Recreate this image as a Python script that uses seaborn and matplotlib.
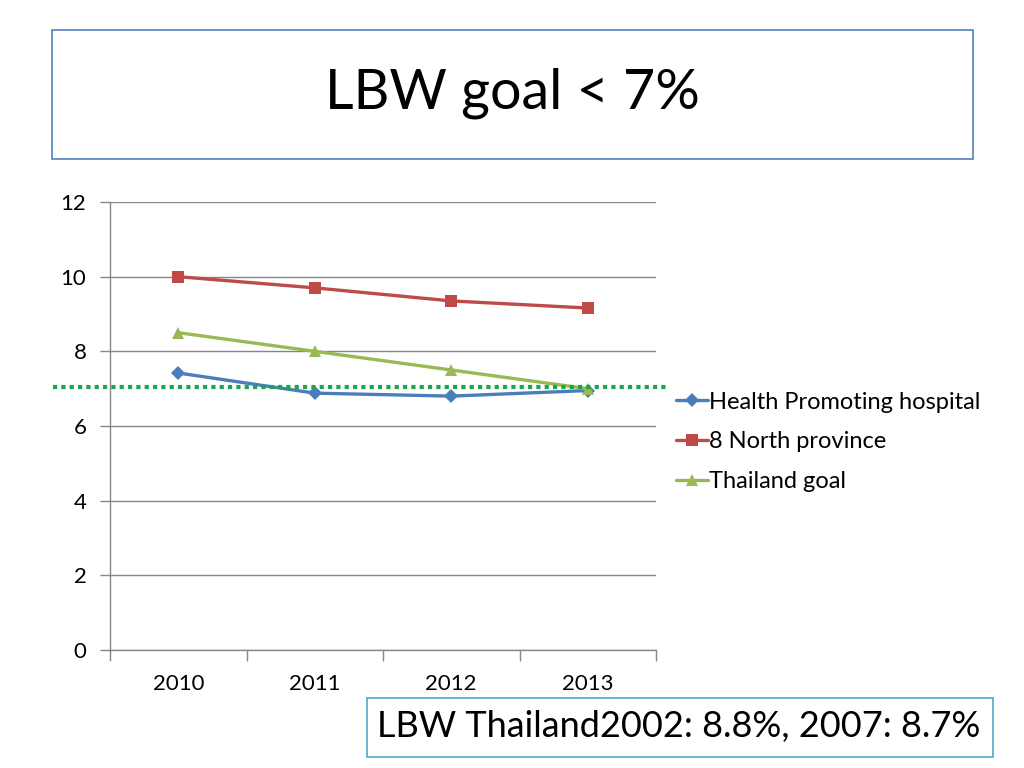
import matplotlib
matplotlib.use("Agg")
import matplotlib.pyplot as plt
import seaborn as sns
import pandas as pd
from matplotlib.patches import Rectangle

years = [2010, 2011, 2012, 2013]
health_promoting = [7.42, 6.88, 6.80, 6.95]
north_province = [10.0, 9.70, 9.35, 9.16]
thailand_goal = [8.5, 8.0, 7.5, 7.0]
series_names = ["Health Promoting hospital", "8 North province", "Thailand goal"]
goal_line = 7.05
title_text = "LBW goal < 7%"
note_text = "LBW Thailand2002: 8.8%, 2007: 8.7%"

sns.set_theme(style="white")
plt.rcParams['font.family'] = ['Lato', 'DejaVu Sans']
plt.rcParams['text.color'] = 'black'
plt.rcParams['xtick.color'] = 'black'
plt.rcParams['ytick.color'] = 'black'

df = pd.DataFrame({
    "year": years * 3,
    "value": health_promoting + north_province + thailand_goal,
    "series": [series_names[0]] * 4 + [series_names[1]] * 4 + [series_names[2]] * 4,
})

colors = {series_names[0]: "#4a7ebb", series_names[1]: "#be4b48", series_names[2]: "#98b954"}
markers = {series_names[0]: "D", series_names[1]: "s", series_names[2]: "^"}

fig = plt.figure(figsize=(10.24, 7.68), dpi=100)
ax = fig.add_axes([110/1024, 1 - 650/768, (656-110)/1024, (650-202)/768])

for name in series_names:
    sub = df[df.series == name]
    ms = 7 if markers[name] == "D" else 9
    sns.lineplot(data=sub, x="year", y="value", ax=ax, color=colors[name],
                 marker=markers[name], markersize=ms, markeredgewidth=0,
                 linewidth=2.4, label=name)

ax.set_xlim(2009.5, 2013.5)
ax.set_ylim(0, 12)
ax.set_yticks([0, 2, 4, 6, 8, 10, 12])
ax.set_xticks([2009.5, 2010.5, 2011.5, 2012.5, 2013.5])
ax.set_xticklabels([])
ax.set_xticks(years, minor=True)
ax.set_xticklabels([str(y) for y in years], minor=True)
ax.tick_params(axis="x", which="minor", bottom=True, length=0, pad=17, labelsize=16)
ax.tick_params(axis="x", which="major", bottom=True, length=8, width=1, color="#868686", direction="out")
ax.tick_params(axis="y", left=True, length=7, width=1, color="#868686", direction="out",
               labelsize=16, pad=10, labelcolor="black")
ax.set_xlabel("")
ax.set_ylabel("")
ax.yaxis.grid(True, color="#868686", linewidth=1)
ax.xaxis.grid(False)
for s in ["top", "right"]:
    ax.spines[s].set_visible(False)
for s in ["left", "bottom"]:
    ax.spines[s].set_color("#868686")
    ax.spines[s].set_linewidth(1)

ax.plot([2009.5 - 0.42, 2013.57], [goal_line, goal_line], linestyle=(0, (1, 1)),
        color="#1aa64a", linewidth=3, clip_on=False, zorder=5)

leg = ax.legend(loc="center left", bbox_to_anchor=(1.02, 1 - (442-202)/448), frameon=False,
                fontsize=17, handlelength=1.35, handletextpad=0.05, labelspacing=0.8,
                borderaxespad=0)
for t in leg.get_texts():
    t.set_color("black")

fig.patches.append(Rectangle((52/1024, 1 - 159/768), (973-52)/1024, (159-30)/768,
                             transform=fig.transFigure, fill=False,
                             edgecolor="#4f81bd", linewidth=1.2))
fig.text(512/1024, 1 - 93/768, title_text, ha="center", va="center", fontsize=40)

fig.patches.append(Rectangle((367/1024, 1 - 757/768), (993-367)/1024, (757-698)/768,
                             transform=fig.transFigure, fill=False,
                             edgecolor="#4bacc6", linewidth=1.2))
fig.text(377/1024, 1 - 727/768, note_text, ha="left", va="center", fontsize=26)

fig.savefig("out.png", dpi=100)
